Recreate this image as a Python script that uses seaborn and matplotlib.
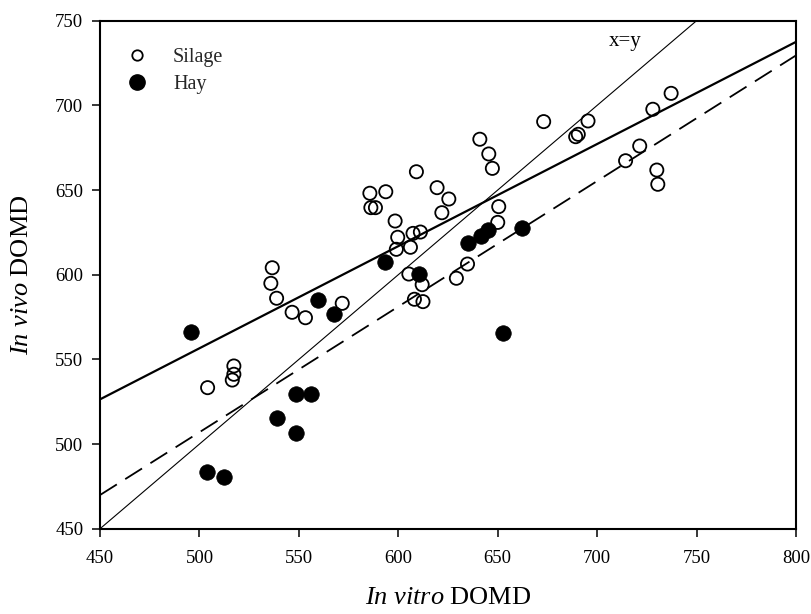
import matplotlib
matplotlib.use("Agg")
import matplotlib.pyplot as plt
import seaborn as sns
from matplotlib.lines import Line2D

# ---- data ----
silage_x = [536.6, 535.9, 538.8, 546.6, 553.3, 571.8, 517.3, 517.3, 516.5, 504.1,
            585.7, 593.7, 586.2, 588.5, 609.1, 619.5, 625.4, 621.9, 598.4, 599.7,
            599.0, 606.1, 607.4, 611.1, 605.3, 612.0, 608.1, 612.4, 629.2, 634.8,
            650.5, 650.0, 641.0, 645.5, 647.3, 673.1, 695.4, 689.2, 690.5, 737.2,
            728.0, 721.4, 714.3, 730.0, 730.5]
silage_y = [604.1, 594.9, 586.1, 577.8, 574.6, 583.1, 546.1, 541.2, 537.8, 533.3,
            648.1, 649.0, 639.6, 639.6, 660.8, 651.4, 644.7, 636.6, 631.7, 622.1,
            615.0, 616.2, 624.4, 625.2, 600.4, 594.1, 585.5, 584.1, 597.9, 606.3,
            640.2, 630.9, 680.0, 671.3, 662.8, 690.4, 690.8, 681.5, 682.9, 707.1,
            697.7, 676.0, 667.3, 661.8, 653.4]

hay_x = [495.6, 503.9, 512.3, 538.8, 548.8, 548.5, 556.0, 559.6, 567.8, 593.3,
         610.3, 635.2, 641.5, 645.1, 662.1, 652.7]
hay_y = [566.3, 483.3, 480.5, 515.2, 506.3, 529.5, 529.5, 585.3, 577.0, 607.3,
         600.4, 618.9, 622.7, 626.4, 627.6, 565.4]

fit_x = [450, 800]
silage_fit_y = [526.4, 737.5]   # solid regression line
hay_fit_y = [469.9, 729.5]      # dashed regression line
identity_xy = [450, 750]        # x = y line

x_ticks = [450, 500, 550, 600, 650, 700, 750, 800]
y_ticks = [450, 500, 550, 600, 650, 700, 750]
legend_labels = ["Silage", "Hay"]

# ---- style ----
sns.set_theme(style="ticks")
plt.rcParams["font.family"] = ["Liberation Serif", "DejaVu Serif"]
plt.rcParams["mathtext.fontset"] = "custom"
plt.rcParams["mathtext.rm"] = "Liberation Serif"
plt.rcParams["mathtext.it"] = "Liberation Serif:italic"

fig = plt.figure(figsize=(8.12, 6.14), dpi=100)
ax = fig.add_axes([0.1232, 0.1389, 0.8571, 0.8274])

sns.scatterplot(x=silage_x, y=silage_y, ax=ax, marker="o", s=90,
                facecolors="none", edgecolor="black", linewidth=1.3, zorder=3)
sns.scatterplot(x=hay_x, y=hay_y, ax=ax, marker="o", s=125,
                color="black", edgecolor="black", linewidth=0.5, zorder=3)

sns.lineplot(x=fit_x, y=silage_fit_y, ax=ax, color="black", linewidth=1.6, zorder=4)
sns.lineplot(x=fit_x, y=hay_fit_y, ax=ax, color="black", linewidth=1.3,
             linestyle=(0, (11, 5.5)), zorder=4)
sns.lineplot(x=identity_xy, y=identity_xy, ax=ax, color="black", linewidth=0.8, zorder=4)

ax.text(714, 738, "x=y", fontsize=15, ha="center", va="center", color="black")

ax.set_xlim(450, 800)
ax.set_ylim(450, 750)
ax.set_xticks(x_ticks)
ax.set_yticks(y_ticks)
ax.tick_params(axis="both", direction="out", length=6, width=1.1,
               labelsize=13.5, color="black", labelcolor="black")
ax.tick_params(axis="x", pad=9)
ax.tick_params(axis="y", pad=6)
for sp in ax.spines.values():
    sp.set_visible(True)
    sp.set_linewidth(1.5)
    sp.set_color("black")

ax.set_xlabel(r"$\mathit{In\ vitro}$ DOMD", fontsize=19, labelpad=15, color="black")
ax.set_ylabel(r"$\mathit{In\ vivo}$ DOMD", fontsize=19, labelpad=16, color="black")

handles = [
    Line2D([], [], marker="o", linestyle="", markerfacecolor="none",
           markeredgecolor="black", markersize=7.5, markeredgewidth=1.3),
    Line2D([], [], marker="o", linestyle="", markerfacecolor="black",
           markeredgecolor="black", markersize=11),
]
ax.legend(handles, legend_labels, loc="upper left", bbox_to_anchor=(0.018, 0.975),
          frameon=False, fontsize=14.5, handlelength=1.0, handletextpad=1.3,
          labelspacing=0.4, borderpad=0.2)

fig.savefig("out.png", dpi=100, facecolor="white")
